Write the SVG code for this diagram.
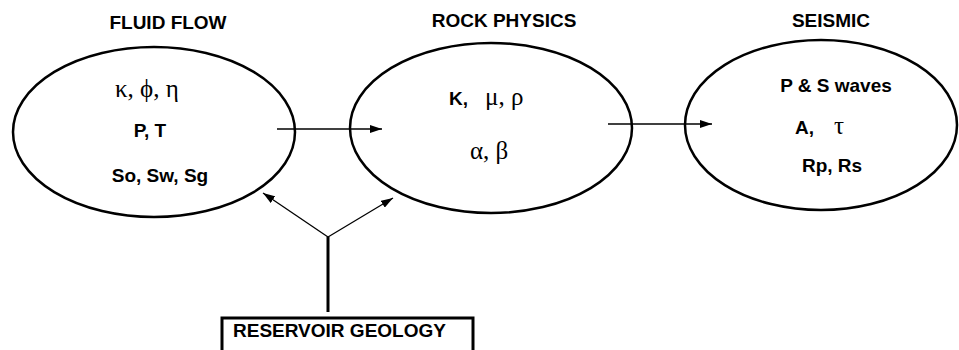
<svg xmlns="http://www.w3.org/2000/svg" width="959" height="350" viewBox="0 0 959 350">
<defs>
<marker id="ah" markerWidth="12" markerHeight="8" refX="12" refY="4" orient="auto" markerUnits="userSpaceOnUse">
<path d="M0,0 L12,4 L0,8 Z" fill="#000"/>
</marker>
</defs>
<style>
.node{fill:#fff;stroke:#000;stroke-width:2.5}
.t{font-family:"Liberation Sans",Arial,sans-serif;font-weight:bold;fill:#000;font-size:19px}
.g{font-family:"Liberation Serif","Times New Roman",serif;fill:#000;font-size:25px}
.c{stroke:#000;stroke-width:1.3;fill:none}
</style>
<rect width="959" height="350" fill="#fff"/>
<g id="fluid-flow">
<text class="t" x="168" y="29" text-anchor="middle">FLUID FLOW</text>
<ellipse class="node" cx="154" cy="132" rx="141" ry="85"/>
<text class="g" x="115" y="97">κ, ϕ, η</text>
<text class="t" x="150" y="137" text-anchor="middle">P, T</text>
<text class="t" x="160" y="182" text-anchor="middle">So, Sw, Sg</text>
</g>
<g id="rock-physics">
<text class="t" x="504" y="27" text-anchor="middle">ROCK PHYSICS</text>
<ellipse class="node" cx="491" cy="128" rx="141" ry="85"/>
<text class="t" x="449" y="105">K,</text>
<text class="g" x="485" y="105">μ, ρ</text>
<text class="g" x="470" y="159">α, β</text>
</g>
<g id="seismic">
<text class="t" x="831" y="27" text-anchor="middle">SEISMIC</text>
<ellipse class="node" cx="821" cy="125" rx="136" ry="85"/>
<text class="t" x="836" y="92" text-anchor="middle">P &amp; S waves</text>
<text class="t" x="795" y="134">A,</text>
<text class="g" x="834" y="134">τ</text>
<text class="t" x="832" y="172" text-anchor="middle">Rp, Rs</text>
</g>
<g id="reservoir-geology">
<rect x="222" y="318" width="251" height="40" fill="#fff" stroke="#000" stroke-width="3"/>
<text class="t" x="233" y="337">RESERVOIR GEOLOGY</text>
</g>
<g id="connectors">
<line class="c" x1="277" y1="129" x2="382" y2="129" marker-end="url(#ah)"/>
<line class="c" x1="608" y1="124" x2="712" y2="124" marker-end="url(#ah)"/>
<line x1="328" y1="312" x2="328" y2="237" stroke="#000" stroke-width="3"/>
<line class="c" x1="328" y1="237" x2="263" y2="193" marker-end="url(#ah)"/>
<line class="c" x1="328" y1="237" x2="393" y2="198" marker-end="url(#ah)"/>
</g>
</svg>
